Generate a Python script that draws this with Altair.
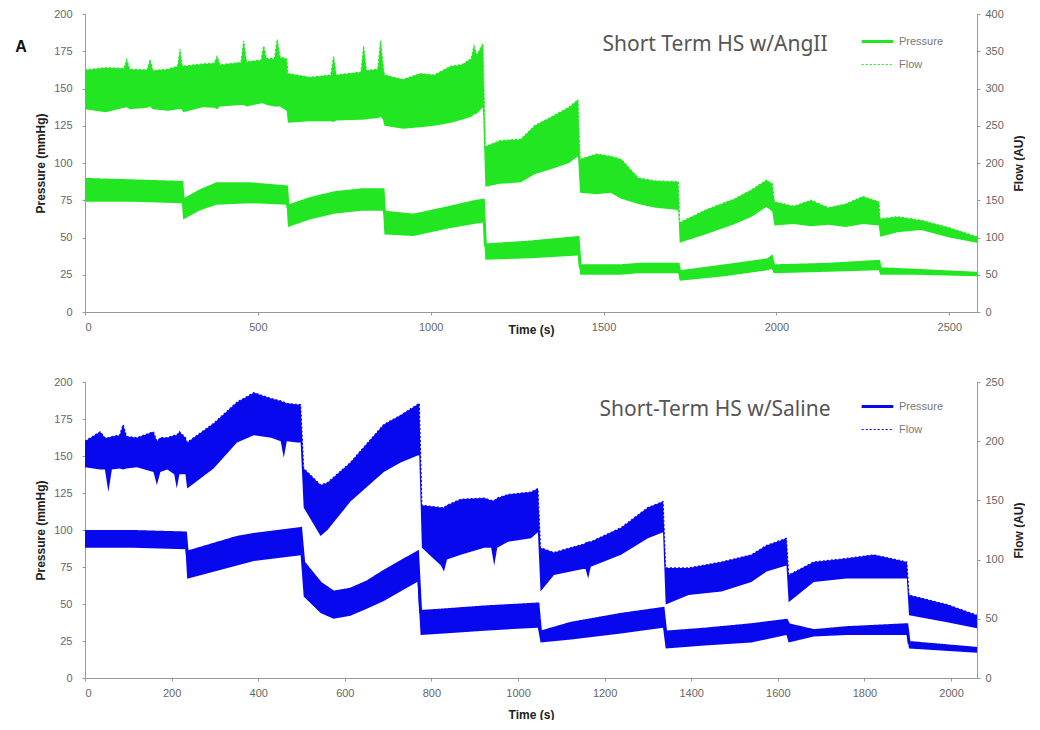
import altair as alt
import pandas as pd

# ---------------- Panel A : Short Term HS w/AngII ----------------
ang_flow_t = [0, 60, 113, 121, 129, 180, 188, 196, 240, 268, 275, 280,
              284, 340, 374, 382, 390, 451, 459, 467, 509, 517, 525, 548, 556, 564, 583,
              587, 650, 711, 719, 727, 798, 806, 814, 847, 855, 862,
              866, 920, 970, 1010, 1058, 1090, 1117, 1125, 1133, 1151,
              1158, 1200, 1261, 1300, 1350, 1400, 1426,
              1432, 1480, 1520, 1551, 1600, 1650, 1716,
              1720, 1800, 1880, 1928, 1971, 1988,
              1994, 2050, 2100, 2150, 2200, 2250, 2296,
              2300, 2350, 2418, 2500, 2580]
ang_flow_lo = [272, 268, 274, 275, 272, 274, 276, 272, 270, 272, 272, 272,
               268, 275, 274, 272, 276, 278, 278, 276, 280, 280, 278, 276, 276, 276, 270,
               254, 256, 256, 255, 257, 258, 258, 259, 260, 262, 258,
               250, 246, 248, 250, 254, 258, 262, 265, 266, 275,
               168, 172, 174, 185, 192, 200, 209,
               160, 158, 160, 152, 145, 140, 137,
               93, 105, 118, 128, 141, 135,
               116, 118, 115, 117, 114, 118, 116,
               101, 107, 110, 100, 93]
ang_flow_hi = [325, 328, 327, 339, 326, 325, 339, 324, 326, 330, 353, 332,
               330, 333, 334, 343, 332, 335, 364, 336, 338, 357, 340, 340, 366, 342, 340,
               320, 315, 318, 343, 318, 322, 357, 324, 326, 364, 332,
               318, 312, 320, 318, 330, 332, 340, 357, 345, 360,
               222, 230, 232, 250, 262, 275, 285,
               205, 212, 209, 205, 180, 176, 175,
               120, 138, 152, 164, 177, 172,
               148, 142, 150, 140, 145, 155, 148,
               125, 128, 123, 113, 101]

ang_pres_t = [0, 140, 280,
              284, 330, 380, 480, 583,
              587, 650, 720, 800, 862,
              866, 950, 1050, 1125, 1152,
              1158, 1290, 1426,
              1432, 1550, 1600, 1716,
              1720, 1850, 1975, 1986,
              1992, 2150, 2296,
              2300, 2400, 2580]
ang_pres_lo = [74, 74, 73, 62, 68, 72, 73, 72, 57, 62, 66, 68, 68, 52, 51, 56, 59, 60,
               35, 36, 38, 25, 25, 26, 26, 21, 24, 28, 29, 26, 27, 28, 25, 25, 24]
ang_pres_hi = [89, 88, 87, 75, 81, 86, 86, 84, 71, 76, 80, 82, 82, 67, 65, 70, 74, 75,
               45, 47, 50, 31, 31, 32, 32, 27, 31, 35, 37, 31, 32, 34, 29, 28, 26]

# ---------------- Panel B : Short-Term HS w/Saline ----------------
sal_flow_t = [0, 35, 46, 54, 62, 80, 88, 96, 120, 158, 166, 174, 190, 206, 212, 218, 232,
              236, 297, 351, 390, 430, 452, 459, 466, 490, 498,
              505, 544, 560, 613, 690, 729, 768, 772,
              778, 822, 829, 836, 868, 922, 938, 945, 952, 977, 1030, 1046,
              1052, 1083, 1150, 1156, 1162, 1168, 1238, 1300, 1335,
              1341, 1394, 1470, 1539, 1574, 1620,
              1625, 1683, 1759, 1822, 1898,
              1903, 1991, 2060]
sal_flow_lo = [178, 176, 176, 157, 176, 177, 176, 177, 178, 174, 163, 174, 176, 172, 160, 172, 172,
               160, 177, 199, 205, 203, 200, 186, 200, 199, 199,
               144, 120, 125, 149, 174, 182, 188, 188,
               110, 95, 90, 100, 104, 110, 110, 95, 110, 115, 118, 123,
               73, 87, 92, 92, 84, 94, 104, 118, 123,
               62, 70, 73, 81, 90, 95,
               64, 81, 84, 84, 84,
               53, 47, 42]
sal_flow_hi = [200, 208, 203, 203, 204, 205, 214, 204, 203, 208, 200, 203, 203, 205, 205, 208, 203,
               199, 215, 233, 241, 236, 234, 233, 232, 231, 231,
               177, 163, 165, 182, 214, 222, 231, 232,
               146, 144, 144, 146, 151, 152, 150, 150, 152, 155, 157, 160,
               110, 106, 113, 114, 115, 115, 127, 144, 149,
               93, 93, 98, 104, 112, 118,
               87, 98, 101, 104, 98,
               70, 62, 53]

sal_pres_t = [0, 110, 232, 236, 351, 390, 498, 505, 544, 574, 613, 652, 690, 768, 775, 829, 922, 1046,
              1052, 1123, 1238, 1335, 1341, 1431, 1539, 1620, 1625, 1683, 1759, 1898, 1903, 2060]
sal_pres_lo = [88, 88, 87, 67, 76, 79, 83, 55, 44, 40, 42, 47, 52, 65, 29, 30, 32, 34,
               24, 26, 30, 34, 20, 22, 24, 29, 24, 28, 29, 29, 20, 17]
sal_pres_hi = [99, 99, 98, 85, 95, 97, 101, 78, 64, 58, 60, 65, 72, 85, 45, 46, 48, 50,
               31, 37, 43, 47, 31, 33, 36, 39, 36, 32, 34, 36, 24, 20]

series_names = ["Pressure", "Flow"]
pressure_ticks = [0, 25, 50, 75, 100, 125, 150, 175, 200]
ang_x_ticks = [0, 500, 1000, 1500, 2000, 2500]
sal_x_ticks = [0, 200, 400, 600, 800, 1000, 1200, 1400, 1600, 1800, 2000]
ang_flow_ticks = [0, 50, 100, 150, 200, 250, 300, 350, 400]
sal_flow_ticks = [0, 50, 100, 150, 200, 250]

GREEN = "#22e622"
BLUE = "#0808ee"
FONT = "Liberation Sans"


def panel(flow_t, f_lo, f_hi, pres_t, p_lo, p_hi, color, title_text, x_max, x_ticks,
          f_max, f_ticks, w, h, x_title_y, tag_text, tag_opacity, legend_y, title_y):
    flow_df = pd.DataFrame({"t": flow_t, "lo": f_lo, "hi": f_hi, "series": "Flow"})
    pres_df = pd.DataFrame({"t": pres_t, "lo": p_lo, "hi": p_hi, "series": "Pressure"})

    x = alt.X("t:Q", scale=alt.Scale(domain=[0, x_max], nice=False, zero=False),
              axis=alt.Axis(values=x_ticks, format="d", title="Time (s)", titleY=x_title_y))
    legend = alt.Legend(title=None, orient="none", legendX=775, legendY=legend_y,
                        symbolType="stroke", symbolSize=1000, symbolStrokeColor=color,
                        labelColor="#777", labelFontSize=11, labelFont=FONT,
                        rowPadding=0, padding=0)
    dash = alt.StrokeDash("series:N", scale=alt.Scale(domain=series_names, range=[[1, 0], [2, 2]]),
                          legend=legend)
    swidth = alt.StrokeWidth("series:N", scale=alt.Scale(domain=series_names, range=[3, 1.2]),
                             legend=legend)

    flow_y = alt.Y("hi:Q", scale=alt.Scale(domain=[0, f_max], nice=False),
                   axis=alt.Axis(orient="right", values=f_ticks, title="Flow (AU)", titleAngle=270,
                                 labelPadding=5, titlePadding=22))
    pres_y = alt.Y("hi:Q", scale=alt.Scale(domain=[0, 200], nice=False),
                   axis=alt.Axis(orient="left", values=pressure_ticks, title="Pressure (mmHg)",
                                 labelPadding=10, titlePadding=6))

    flow_band = alt.Chart(flow_df).mark_area(color=color, opacity=1).encode(x=x, y=flow_y, y2="lo:Q")
    flow_line = alt.Chart(flow_df).mark_line(color=color).encode(
        x=x, y=flow_y, strokeDash=dash, strokeWidth=swidth)
    pres_band = alt.Chart(pres_df).mark_area(color=color, opacity=1).encode(x=x, y=pres_y, y2="lo:Q")
    pres_line = alt.Chart(pres_df).mark_line(color=color).encode(
        x=x, y=pres_y, strokeDash=dash, strokeWidth=swidth)

    flow = alt.layer(flow_band, flow_line)
    pres = alt.layer(pres_band, pres_line)

    title = alt.Chart(pd.DataFrame({"label": [title_text]})).mark_text(
        font="Noto Sans", fontSize=21, color="#555", align="center", baseline="middle"
    ).encode(text="label:N", x=alt.value(630), y=alt.value(title_y))
    tag = alt.Chart(pd.DataFrame({"label": [tag_text]})).mark_text(
        font=FONT, fontSize=16, fontWeight="bold", color="#111", align="center",
        baseline="middle", opacity=tag_opacity
    ).encode(text="label:N", x=alt.value(-64), y=alt.value(33))

    return alt.layer(flow, pres, title, tag).resolve_scale(y="independent").properties(
        width=w, height=h)


top = panel(ang_flow_t, ang_flow_lo, ang_flow_hi, ang_pres_t, ang_pres_lo, ang_pres_hi, GREEN,
            "Short Term HS w/AngII", 2580, ang_x_ticks, 400, ang_flow_ticks, 892, 298, 12, "A", 1,
            10, 31)
bottom = panel(sal_flow_t, sal_flow_lo, sal_flow_hi, sal_pres_t, sal_pres_lo, sal_pres_hi, BLUE,
               "Short-Term HS w/Saline", 2060, sal_x_ticks, 250, sal_flow_ticks, 892, 296, 31, "A", 0,
               7, 28)

chart = alt.vconcat(top, bottom, spacing=70, bounds="flush").resolve_scale(
    x="independent", y="independent", strokeDash="independent", strokeWidth="independent"
).properties(
    padding={"left": 7, "top": 0, "right": 0, "bottom": 0},
    background="white",
).configure_axis(
    grid=False, labelFont=FONT, labelFontSize=11, labelColor="#666",
    titleFont=FONT, titleFontSize=12, titleFontWeight="bold", titleColor="#222",
    domainColor="#999", tickColor="#999", tickSize=3,
).configure_axisBottom(
    labelPadding=6,
).configure_view(stroke=None)

chart.save("out.html", embed_options={"renderer": "svg", "actions": False})
